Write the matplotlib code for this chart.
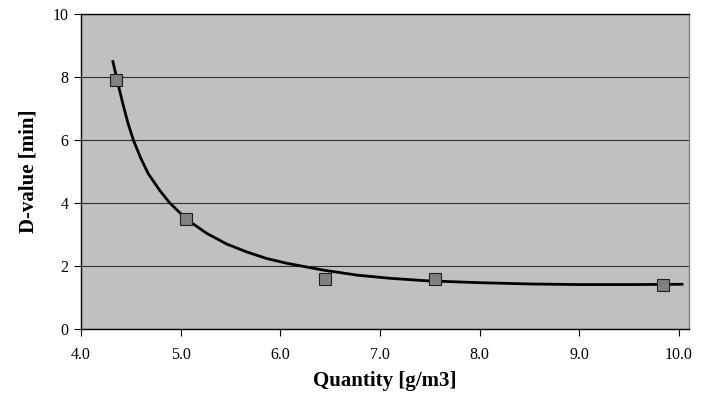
import matplotlib.pyplot as plt
from matplotlib.ticker import FormatStrFormatter

# measured points
quantity = [4.35, 5.05, 6.45, 7.55, 9.84]
d_value = [7.9, 3.5, 1.6, 1.6, 1.39]

# trend line
trend_x = [4.32, 4.37, 4.42, 4.47, 4.525, 4.60, 4.675, 4.79, 4.885, 5.06, 5.26,
           5.46, 5.66, 5.86, 6.06, 6.43, 6.77, 7.10, 7.47, 8.0, 8.5, 9.0, 9.5, 10.03]
trend_y = [8.49, 7.8, 7.15, 6.55, 6.0, 5.42, 4.93, 4.40, 4.02, 3.48, 3.04,
           2.70, 2.45, 2.24, 2.09, 1.87, 1.71, 1.61, 1.53, 1.47, 1.43, 1.41, 1.41, 1.42]

x_ticks = [4, 5, 6, 7, 8, 9, 10]
y_ticks = [0, 2, 4, 6, 8, 10]

plt.rcParams['font.family'] = ['Liberation Serif', 'DejaVu Serif']

fig = plt.figure(figsize=(7.08, 3.97), dpi=100)
ax = fig.add_axes([81 / 708, 1 - 329 / 397, 608 / 708, 315 / 397])
ax.set_facecolor('#c0c0c0')

ax.plot(trend_x, trend_y, color='black', lw=2.0, zorder=3)
ax.plot(quantity, d_value, ls='none', marker='s', ms=8.4,
        mfc='#808080', mec='#202020', mew=0.8, zorder=4)

ax.set_xlim(4.0, 10.1)
ax.set_ylim(0, 10)
ax.set_xticks(x_ticks)
ax.set_yticks(y_ticks)
ax.xaxis.set_major_formatter(FormatStrFormatter('%.1f'))
ax.tick_params(direction='out', length=5, width=0.8, labelsize=11.5, colors='black')
ax.tick_params(axis='x', pad=8)
ax.tick_params(axis='y', pad=4)

ax.yaxis.grid(True, color='#303030', lw=0.8)
ax.set_axisbelow(True)

for side in ['left', 'bottom', 'top']:
    ax.spines[side].set_color('black')
    ax.spines[side].set_linewidth(1.0)
ax.spines['right'].set_color('#808080')
ax.spines['right'].set_linewidth(1.0)

ax.set_xlabel('Quantity [g/m3]', fontsize=15, fontweight='bold', labelpad=6)
ax.set_ylabel('D-value [min]', fontsize=15, fontweight='bold', labelpad=10)

fig.savefig('out.png', dpi=100)
